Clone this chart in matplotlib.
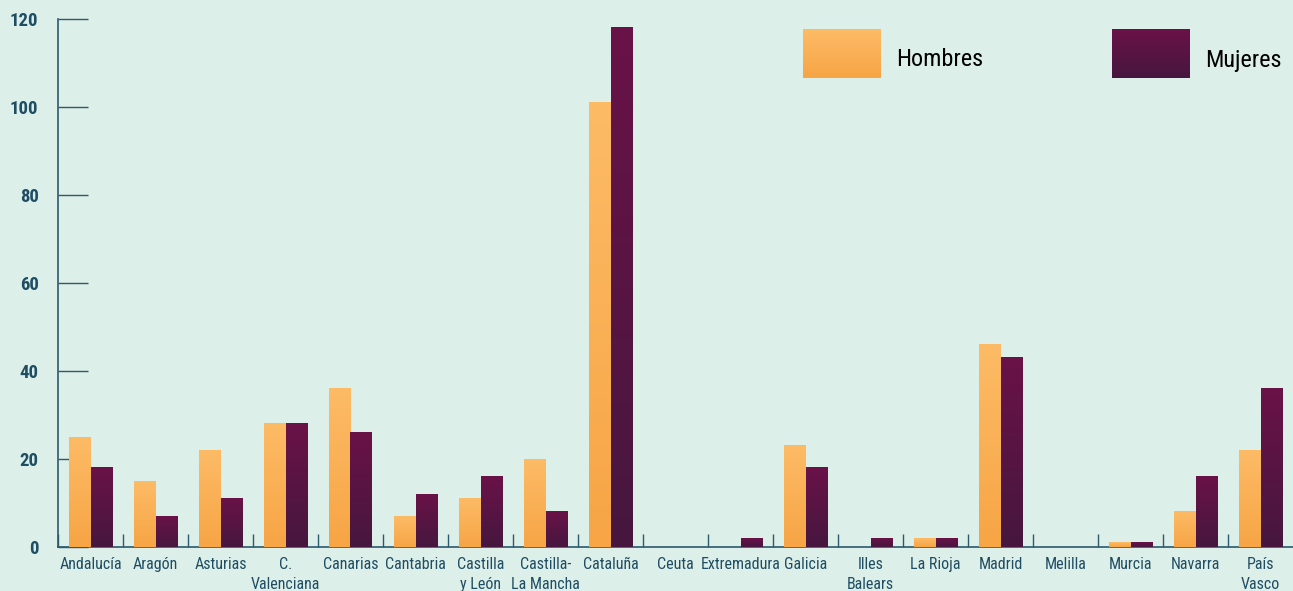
import numpy as np
import matplotlib
matplotlib.use("Agg")
import matplotlib.pyplot as plt
from matplotlib.colors import LinearSegmentedColormap

# datos
comunidades = ["Andalucía", "Aragón", "Asturias", "C.\nValenciana", "Canarias", "Cantabria",
               "Castilla\ny León", "Castilla-\nLa Mancha", "Cataluña", "Ceuta", "Extremadura",
               "Galicia", "Illes\nBalears", "La Rioja", "Madrid", "Melilla", "Murcia",
               "Navarra", "País\nVasco"]
hombres = [25, 15, 22, 28, 36, 7, 11, 20, 101, 0, 0, 23, 0, 2, 46, 0, 1, 8, 22]
mujeres = [18, 7, 11, 28, 26, 12, 16, 8, 118, 0, 2, 18, 2, 2, 43, 0, 1, 16, 36]
y_ticks = [0, 20, 40, 60, 80, 100, 120]

fondo = "#ddefe9"
azul = "#2b5a6e"
texto = "#1f4d63"
naranja = ("#fdbb66", "#f7a545")
morado = ("#6a1248", "#46173f")

plt.rcParams['font.family'] = ['Roboto Condensed', 'Archivo Narrow', 'DejaVu Sans']

fig = plt.figure(figsize=(12.93, 5.91), dpi=100, facecolor=fondo)
ax = fig.add_axes([58/1293, 1 - 547/591, 1 - 58/1293, (547 - 19)/591])
ax.set_facecolor(fondo)

x = np.arange(len(comunidades))
w = 0.325
b1 = ax.bar(x - w/2, hombres, w, color=naranja[1], zorder=2)
b2 = ax.bar(x + w/2, mujeres, w, color=morado[1], zorder=2)


def degradado(ax, barras, colores):
    cmap = LinearSegmentedColormap.from_list("g", list(colores))
    grad = np.linspace(0, 1, 256).reshape(-1, 1)
    for b in barras:
        h = b.get_height()
        if h <= 0:
            continue
        x0, y0 = b.get_xy()
        ax.imshow(grad, cmap=cmap, extent=[x0, x0 + b.get_width(), y0, y0 + h],
                  aspect="auto", origin="upper", zorder=3, interpolation="bilinear")


degradado(ax, b1, naranja)
degradado(ax, b2, morado)

ax.set_xlim(-0.5, len(comunidades) - 0.5)
ax.set_ylim(0, 120)

for s in ["top", "right"]:
    ax.spines[s].set_visible(False)
ax.spines["left"].set_color(azul)
ax.spines["bottom"].set_color(azul)
ax.spines["left"].set_linewidth(1.2)
ax.spines["bottom"].set_linewidth(1.2)

ax.set_yticks(y_ticks)
ax.set_yticklabels([str(v) for v in y_ticks])
ax.tick_params(axis="y", direction="in", length=21.6, width=1.0, color=azul,
               labelcolor=texto, labelsize=13.5, pad=14)
for t in ax.get_yticklabels():
    t.set_fontweight("bold")

ax.set_xticks(x)
ax.set_xticklabels(comunidades, linespacing=1.38)
ax.set_xticks(np.arange(len(comunidades)) - 0.5, minor=True)
ax.tick_params(axis="x", which="major", length=0, labelcolor=texto, labelsize=11.5, pad=7.5)
ax.tick_params(axis="x", which="minor", direction="in", length=9.5, width=1.0, color=azul)

# leyenda
cm_h = LinearSegmentedColormap.from_list("h", list(naranja))
cm_m = LinearSegmentedColormap.from_list("m", list(morado))
grad = np.linspace(0, 1, 64).reshape(-1, 1)
for x0, cm, etiqueta in [(803, cm_h, "Hombres"), (1112, cm_m, "Mujeres")]:
    sw = fig.add_axes([x0/1293, 1 - 78/591, 78/1293, 49/591])
    sw.imshow(grad, cmap=cm, aspect="auto", origin="upper")
    sw.axis("off")
    fig.text((x0 + 93)/1293, 1 - 60/591, etiqueta, fontsize=17.5, color="black", va="center")

fig.savefig("out.png", dpi=100, facecolor=fondo)
